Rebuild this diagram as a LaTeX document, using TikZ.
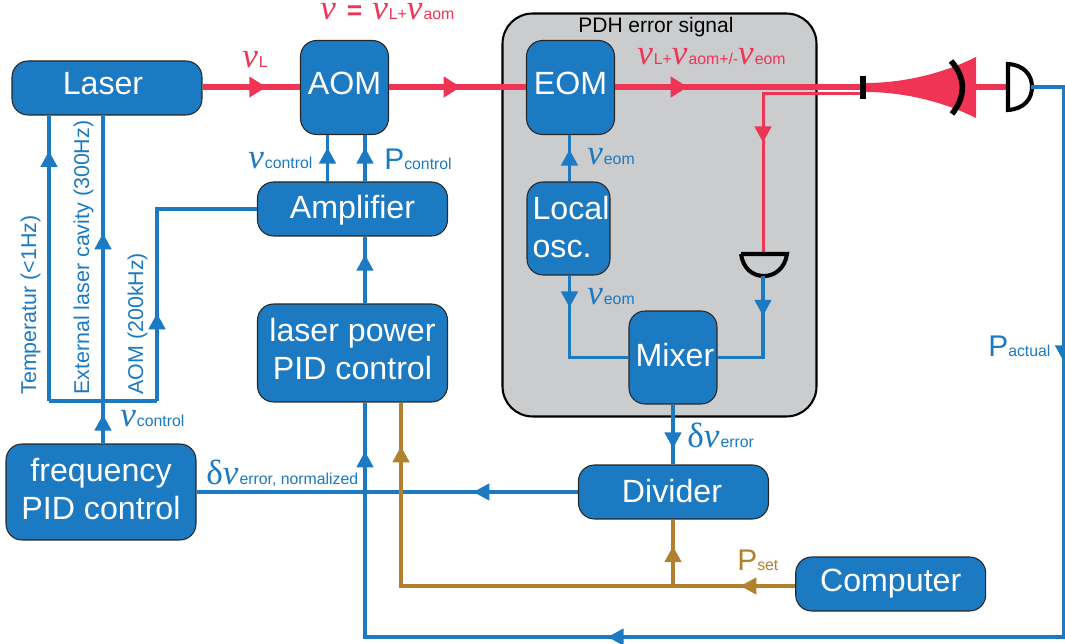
\documentclass[tikz,border=0pt]{standalone}
\usepackage{fontspec}
\setmainfont{Liberation Sans}
\newfontfamily\grk{Liberation Serif}
\usetikzlibrary{arrows.meta,decorations.markings}
\definecolor{boxblue}{HTML}{1B7AC1}
\definecolor{beamred}{HTML}{F03456}
\definecolor{setbrown}{HTML}{B1812F}
\definecolor{pdhgray}{HTML}{CBCCCE}
\newcommand{\boxfont}{\fontsize{18.3}{22.1}\selectfont}
\newcommand{\nusym}{{\fontsize{20}{20}\selectfont\grk\itshape ν\kern.02cm}}
\newcommand{\desym}{{\fontsize{20}{20}\selectfont\grk δ}}
\newcommand{\psym}{{\fontsize{17}{17}\selectfont P}}
\newcommand{\sbs}[1]{{\fontsize{9}{9}\selectfont #1}}
\tikzset{
  fbox/.style={draw=black!85,line width=.6pt,fill=boxblue,text=white,rounded corners=.32cm,
    inner sep=0pt,font=\boxfont,align=center},
  wide/.style={minimum width=3.8cm,minimum height=#1},
  narrow/.style={minimum width=1.76cm,minimum height=#1},
  bl/.style={text height=#1*.04cm,text depth=0pt},
  tipat/.style={postaction={decorate,decoration={markings,
    mark=at position #1*0.5669pt with {\arrow{Triangle[length=.32cm,width=.33cm]}}}}},
  redtip/.style={postaction={decorate,decoration={markings,
    mark=at position #1*0.5669pt with {\arrow{Triangle[length=.34cm,width=.4cm]}}}}},
  bluel/.style={draw=boxblue,line width=1.8pt},
  brownl/.style={draw=setbrown,line width=1.8pt},
  beam/.style={draw=beamred,line width=3.2pt},
  thinbeam/.style={draw=beamred,line width=1.7pt},
  optic/.style={draw=black,line width=3.2pt},
  lbl/.style={inner sep=0pt,text=boxblue,anchor=base west},
  vlbl/.style={inner sep=0pt,text=boxblue,rotate=90,anchor=base west,font=\fontsize{12.2}{12.2}\selectfont},
}
\begin{document}
\begin{tikzpicture}[x=.02cm,y=-.02cm]
   \useasboundingbox (0,0) rectangle (1065,644);
   \node (pdhbox) [draw=black,line width=1.2pt,fill=pdhgray,rounded corners=.6cm,minimum width=6.28cm,minimum height=8.06cm,inner sep=0pt] at (659.5,215) {};

   \node (laser)    [fbox,wide=1.08cm,bl=7]      at (107,88)     {Laser\hspace*{.16cm}};
   \node (aom)      [fbox,narrow=1.88cm,bl=7.5]  at (344.5,87.5) {AOM};
   \node (ampl)     [fbox,wide=1.08cm,bl=10]     at (352.5,209)  {Amplifier};
   \node (powerpid) [fbox,wide=1.96cm,bl=27]     at (352.5,353)  {laser power\\PID control};
   \node (freqpid)  [fbox,wide=1.92cm,bl=28]     at (101,492)    {frequency\\PID control};
   \node (eom)      [fbox,narrow=1.88cm,bl=7.5]  at (570.5,87.5) {EOM};
   \node (localosc) [fbox,minimum width=1.66cm,minimum height=1.86cm,align=left,bl=29.5] at (568.5,228.5) {\hspace*{.1cm}Local\\\hspace*{.1cm}osc.};
   \node (mixer)    [fbox,narrow=1.86cm,bl=9.5]  at (673,357.5)  {\hspace*{.08cm}Mixer};
   \node (divider)  [fbox,wide=1.08cm,bl=11]     at (673.5,492)  {Divider\hspace*{.06cm}};
   \node (computer) [fbox,wide=1.08cm,bl=8]      at (890.7,584)  {Computer};

   \coordinate (split)  at (863,87);
   \coordinate (splitb) at (863,94);
   \coordinate (pdone)  at (1008,87);
   \coordinate (pdoneb) at (1031,87);
   \coordinate (pdtwo)  at (763,253);
   \coordinate (pdtwob) at (763,276);
   \coordinate (xctl)   at (327.5,0);
   \coordinate (xpow)   at (365,0);
   \coordinate (xset)   at (401,0);
   \coordinate (xtemp)  at (49,0);
   \coordinate (xcav)   at (103,0);
   \coordinate (xaom)   at (157,0);
   \coordinate (xlo)    at (569.5,0);
   \coordinate (xmix)   at (673,0);
   \coordinate (ysplit) at (0,401);
   \coordinate (yset)   at (0,586);
   \coordinate (yback)  at (0,637);
   \coordinate (xright) at (1063.5,0);

   \draw[beam,redtip=64] (laser.east |- split) -- (aom.west |- split);
   \draw[beam,redtip=72] (aom.east |- split) -- (eom.west |- split);
   \draw[beam,redtip=73] (eom.east |- split) -- (split);
   \draw[thinbeam,tipat=149] (splitb) -| (pdtwo);
   \fill[beamred] (866,83) .. controls (900,83) and (940,75) .. (976,57) -- (976,118) .. controls (940,100) and (900,92) .. (866,92) -- cycle;
   \draw[beam] (976,87) -- (pdone);
   \draw[optic] (split) ++(0,-11) -- ++(0,23);
   \draw[optic] (951,61) .. controls (966,78) and (966,96) .. (952,114);
   \draw[optic,fill=white,line width=2.3pt] (1008,64) .. controls (1024,65) and (1032,75) .. (1032,87) .. controls (1032,99) and (1024,109) .. (1008,110) -- cycle;
   \draw[optic,line width=2.3pt] (741,254) -- (787,254) .. controls (785,268) and (775,276) .. (764,276) .. controls (752,276) and (743,268) .. (741,254);

   \draw[bluel,tipat=34] (xctl |- ampl.north) -- (xctl |- aom.south);
   \draw[bluel,tipat=34] (xpow |- ampl.north) -- (xpow |- aom.south);
   \draw[bluel,tipat=49] (xpow |- powerpid.north) -- (xpow |- ampl.south);
   \draw[bluel,tipat=29,tipat=211] (xcav |- freqpid.north) -- (xcav |- laser.south);
   \draw[bluel,tipat=251] (xtemp |- ysplit) -- (xtemp |- laser.south);
   \draw[bluel] (xtemp |- ysplit) -- (xaom |- ysplit);
   \draw[bluel,tipat=88] (xaom |- ysplit) |- (ampl.west);
   \draw[bluel,tipat=32] (xlo |- localosc.north) -- (xlo |- eom.south);
   \draw[bluel,tipat=32] (xlo |- localosc.south) |- (mixer.west);
   \draw[bluel,tipat=40] (pdtwob) |- (mixer.east);
   \draw[bluel,tipat=44] (xmix |- mixer.south) -- (xmix |- divider.north);
   \draw[bluel,tipat=105] (divider.west) -- (freqpid.east |- divider.west);
   \draw[bluel,tipat=308,tipat=1042.5,tipat=1472.5] (pdoneb) -| (xright |- yback) -- (xpow |- yback) -- (xpow |- powerpid.south);

   \draw[brownl,tipat=55,tipat=536] (computer.west |- yset) -- (xset |- yset) -- (xset |- powerpid.south);
   \draw[brownl,tipat=40] (xmix |- yset) -- (xmix |- divider.south);

   \node (nutop)  [lbl,text=beamred] at (320,20) {\nusym\kern.2cm{\fontsize{15}{15}\selectfont\bfseries =}\kern.2cm\nusym\sbs{L+}\nusym\sbs{aom}};
   \node (nul)    [lbl,text=beamred] at (242,68) {\nusym\sbs{L}};
   \node (nubeam) [lbl,text=beamred] at (637,65) {\nusym\sbs{L+}\nusym\sbs{aom+/-}\nusym\sbs{eom}};
   \node (pdhtxt) [lbl,text=black,font=\fontsize{11.95}{11.95}\selectfont] at (578,33) {PDH error signal};
   \node (nuctl)  [lbl] at (248,169) {\nusym\sbs{control}};
   \node (pctl)   [lbl] at (384,170) {\psym\sbs{control}};
   \node (nueoma) [lbl] at (587,165) {\nusym\sbs{eom}};
   \node (nueomb) [lbl] at (587,305) {\nusym\sbs{eom}};
   \node (nuctlb) [lbl] at (120,427) {\nusym\sbs{control}};
   \node (pact)   [lbl] at (988,357) {\psym\sbs{actual}};
   \node (dnuerr) [lbl] at (687,448) {\desym\nusym\sbs{error}};
   \node (dnunrm) [lbl] at (206,485) {\desym\nusym\sbs{error, normalized}};
   \node (pset)   [lbl,text=setbrown] at (737,571) {\psym\sbs{set}};
   \node (ttemp)  [vlbl] at (36,395) {Temperatur (<1Hz)};
   \node (tcav)   [vlbl] at (89,395) {External laser cavity (300Hz)};
   \node (taom)   [vlbl] at (143,395) {AOM (200kHz)};
\end{tikzpicture}
\end{document}
